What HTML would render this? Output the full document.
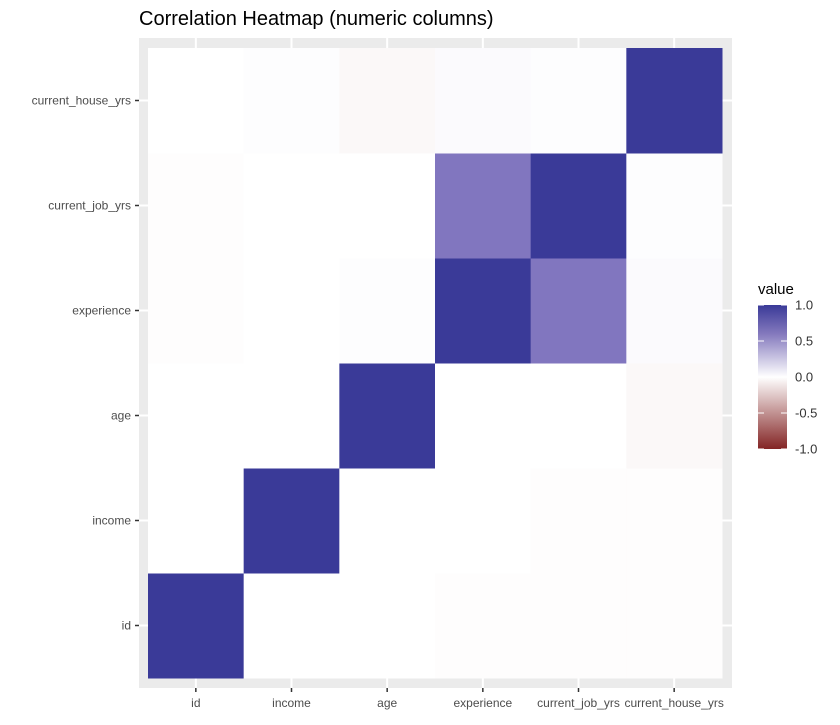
<!DOCTYPE html>
<html><head><meta charset="utf-8"><style>
body{margin:0;background:#fff;font-family:"Liberation Sans",sans-serif;}
</style></head><body>
<svg id="chart" width="840" height="720" xmlns="http://www.w3.org/2000/svg">
<defs><linearGradient id="lg" x1="0" y1="1" x2="0" y2="0">
<stop offset="0" stop-color="#832424"/><stop offset="0.5" stop-color="#ffffff"/><stop offset="0.8" stop-color="#8479BD"/><stop offset="1" stop-color="#3A3A98"/>
</linearGradient></defs>
<text x="139" y="25" font-size="20" fill="#000">Correlation Heatmap (numeric columns)</text>
<rect x="139" y="38" width="593" height="650" fill="#EBEBEB"/>
<g id="grid"></g><g id="tiles"></g><g id="axes"></g>
<g>
<text x="758" y="294" font-size="15" fill="#000">value</text>
<rect x="758" y="305" width="29" height="144" fill="url(#lg)"/>
<g id="legticks"></g>
</g>
</svg>
<script>
const vars = ["id","income","age","experience","current_job_yrs","current_house_yrs"];
const corr = [
 [1, 0.00, 0.00, -0.01, -0.01, -0.01],
 [0.00, 1, 0.00, 0.00, -0.01, -0.01],
 [0.00, 0.00, 1, 0.00, 0.00, -0.03],
 [-0.01, 0.00, 0.01, 1, 0.62, 0.02],
 [-0.01, 0.00, 0.00, 0.62, 1, 0.01],
 [0.00, 0.01, -0.03, 0.02, 0.01, 1]
];
const legendTicks = [-1.0,-0.5,0.0,0.5,1.0];
const NS="http://www.w3.org/2000/svg";
const x0=148,x1=722,y0=678,y1=48,n=vars.length;
const cw=(x1-x0)/n,ch=(y0-y1)/n;
const xs=i=>x0+i*cw, ys=j=>y0-(j+1)*ch;
function col(v){
 const lo=[131,36,36],hi=[58,58,152],w=[255,255,255];
 const t=Math.min(1,Math.abs(v)),e=v<0?lo:hi;
 const c=w.map((c,k)=>c+(e[k]-c)*t);
 if(v>0){const s=Math.sin(Math.PI*t);c[0]-=4*s;c[1]-=16*s;}
 return "rgb("+c.map(Math.round).join(",")+")";
}
function mk(tag,attrs,parent){const e=document.createElementNS(NS,tag);for(const k in attrs)e.setAttribute(k,attrs[k]);parent.appendChild(e);return e;}
const grid=document.getElementById("grid"),tiles=document.getElementById("tiles"),axes=document.getElementById("axes");
vars.forEach((v,i)=>{
 const cx=xs(i)+cw/2, cy=ys(i)+ch/2;
 const g1=mk("line",{x1:cx,x2:cx,y1:38,y2:688,stroke:"#fff","stroke-width":2},grid);
 
 
 const g2=mk("line",{x1:139,x2:732,y1:cy,y2:cy,stroke:"#fff","stroke-width":2},grid);
 
 
 const t1=mk("line",{x1:cx,x2:cx,y1:688,y2:692,stroke:"#333","stroke-width":1.5},axes);
 
 
 const l1=mk("text",{x:cx,y:707,"font-size":12,fill:"#4D4D4D","text-anchor":"middle"},axes);
 l1.textContent=v;
 
 
 const t2=mk("line",{x1:135,x2:139,y1:cy,y2:cy,stroke:"#333","stroke-width":1.5},axes);
 
 
 const l2=mk("text",{x:131,y:cy+4,"font-size":12,fill:"#4D4D4D","text-anchor":"end"},axes);
 l2.textContent=v;
 
 
});
corr.forEach((row,j)=>row.forEach((val,i)=>{
 const r=mk("rect",{x:xs(i),y:ys(j),width:cw+0.5,height:ch+0.5,fill:col(val)},tiles);
 
 
}));
const lt=document.getElementById("legticks");
legendTicks.forEach(v=>{
 const y=449-(v+1)/2*144;
 const a=mk("line",{x1:758,x2:764,y1:y,y2:y,stroke:"#fff","stroke-width":1},lt);
 
 
 const b=mk("line",{x1:781,x2:787,y1:y,y2:y,stroke:"#fff","stroke-width":1},lt);
 
 
 const t=mk("text",{x:795,y:y+4.5,"font-size":13,fill:"#333"},lt);
 t.textContent=v.toFixed(1);
 
 
});
</script>
</body></html>
